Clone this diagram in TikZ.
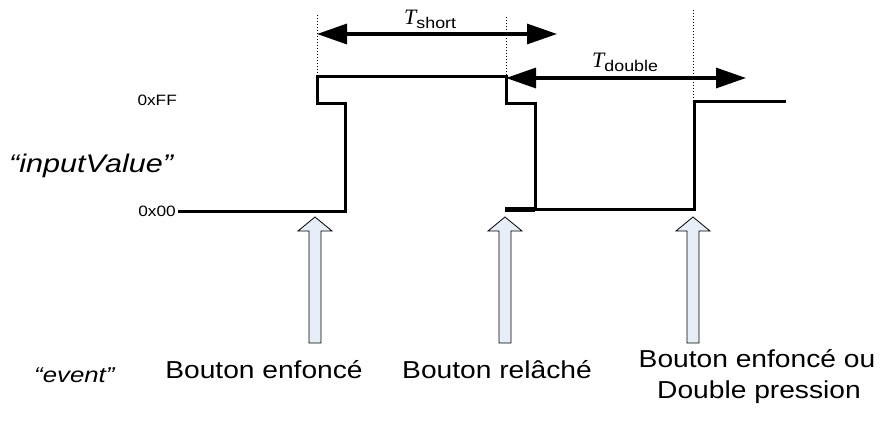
\documentclass[tikz,border=0pt]{standalone}
\usepackage{fontspec}
\setmainfont[FakeStretch=1.15]{Liberation Sans}
\newfontfamily\itfont[FakeStretch=1.2]{Liberation Sans Italic}
\newfontfamily\tfont{Liberation Serif}
\usetikzlibrary{arrows.meta}
\definecolor{evfill}{RGB}{232,238,248}
\tikzset{
  wave/.style={line width=3pt, line join=miter, line cap=butt},
  guide/.style={dotted, line width=1pt},
  span/.style={line width=3.2pt, {Triangle[length=30pt,width=20pt]}-{Triangle[length=30pt,width=20pt]}},
  evarrow/.style={fill=evfill, draw=black, line width=0.8pt},
  lbl/.style={inner sep=0pt, font=\fontsize{24.5}{31}\selectfont, align=center},
  lvl/.style={inner sep=0pt, font=\fontsize{15}{16}\selectfont},
  itlbl/.style={inner sep=0pt, anchor=base west},
}
\newcommand{\evshape}[1]{%
  \path[evarrow] (#1,217) -- (#1+17,231) -- (#1+6,231) -- (#1+6,343) -- (#1-6,343) -- (#1-6,231) -- (#1-17,231) -- cycle;}
\begin{document}
\begin{tikzpicture}[x=1pt,y=-1pt]
\useasboundingbox (0,0) rectangle (881,441);
% guides
\draw[guide] (317,15) -- (317,104);
\draw[guide] (506,17) -- (506,104);
\draw[guide] (693,10) -- (693,103);
% waveform
\draw[wave] (178,211) -- (345,211) -- (345,104) -- (317,104) -- (317,77) -- (506,77) -- (506,104) -- (535,104) -- (535,209) -- (694,209) -- (694,102) -- (786,102);
\draw[line width=4.5pt] (505,209.5) -- (535,209.5);
% spans
\coordinate (s1) at (317,34);
\coordinate (s2) at (557,34);
\coordinate (d1) at (506,78);
\coordinate (d2) at (746,78);
\draw[span] (s1) -- (s2);
\draw[span] (d1) -- (d2);
\node[anchor=base west, inner sep=0pt] (tshort) at (404,25) {\fontsize{22}{22}\selectfont\tfont\itshape T\fontsize{15.5}{16}\selectfont\raisebox{-4pt}{\normalfont short}};
\node[anchor=base west, inner sep=0pt] (tdouble) at (592,68) {\fontsize{22}{22}\selectfont\tfont\itshape T\fontsize{15.5}{16}\selectfont\raisebox{-4pt}{\normalfont double}};
% level labels
\node[lvl, anchor=base east] (ff) at (177,106) {0xFF};
\node[lvl, anchor=base east] (zz) at (176,216) {0x00};
\node[itlbl] (iv) at (9,172) {\fontsize{25.5}{28}\selectfont\itfont “inputValue”};
\node[itlbl] (ev) at (34,382) {\fontsize{21.5}{24}\selectfont\itfont “event”};
% event arrows
\evshape{315}
\evshape{505}
\evshape{693}
% event labels
\node[lbl, anchor=base] (e1) at (264,378) {Bouton enfoncé};
\node[lbl, anchor=base] (e2) at (497,378) {Bouton relâché};
\node[lbl, anchor=base] (e3) at (757,367) {Bouton enfoncé ou};
\node[lbl, anchor=base] (e4) at (759,398) {Double pression};
\end{tikzpicture}
\end{document}
